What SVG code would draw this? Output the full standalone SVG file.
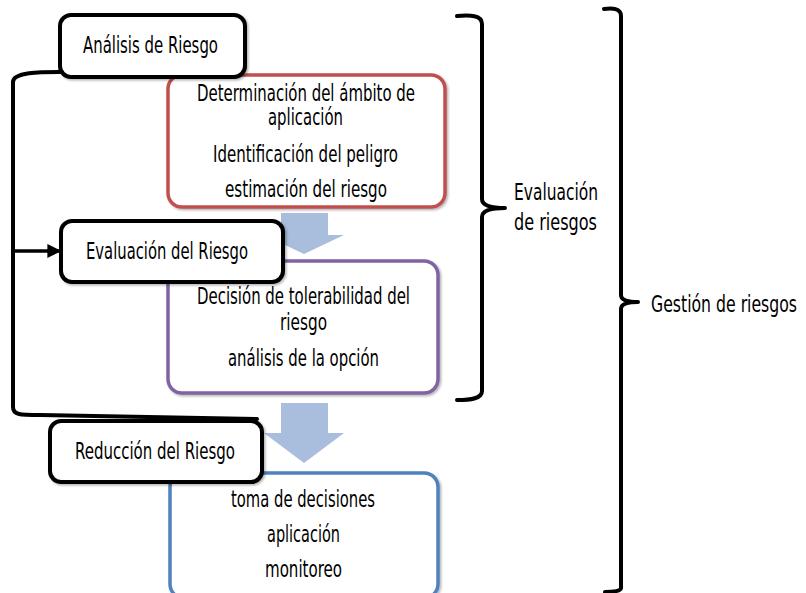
<svg xmlns="http://www.w3.org/2000/svg" width="806" height="593" viewBox="0 0 806 593">
<style>
text{font-family:"Liberation Sans Narrow","DejaVu Sans Condensed","Liberation Sans",sans-serif;font-size:23px;fill:#000}
.c{text-anchor:middle}
.lbl{fill:#fff;stroke:#000;stroke-width:4}
.box{fill:#fff;stroke-width:3.5}
.br{fill:none;stroke:#000;stroke-width:4;stroke-linecap:round;stroke-linejoin:round}
.blk{fill:#A9BDDC}
</style>
<defs>
<filter id="sh" x="-10%" y="-10%" width="130%" height="130%">
<feDropShadow dx="1.5" dy="1.5" stdDeviation="1.2" flood-color="#000" flood-opacity="0.3"/>
</filter>
<marker id="ah" viewBox="0 0 10 10" refX="9" refY="5" markerWidth="4" markerHeight="4" orient="auto" markerUnits="strokeWidth">
<path d="M0,0 L10,5 L0,10 z" fill="#000"/>
</marker>
</defs>

<g id="box-red">
<rect class="box" x="168" y="75" width="277" height="132" rx="14" stroke="#C0504D" filter="url(#sh)"/>
<text class="c" x="306" y="101" textLength="218" lengthAdjust="spacingAndGlyphs">Determinación del ámbito de</text>
<text class="c" x="305.5" y="125" textLength="75" lengthAdjust="spacingAndGlyphs">aplicación</text>
<text class="c" x="305.5" y="162" textLength="185" lengthAdjust="spacingAndGlyphs">Identificación del peligro</text>
<text class="c" x="306" y="197" textLength="162" lengthAdjust="spacingAndGlyphs">estimación del riesgo</text>
</g>

<g id="box-purple">
<rect class="box" x="168" y="261" width="270" height="132" rx="14" stroke="#8064A2" filter="url(#sh)"/>
<text class="c" x="303.5" y="304" textLength="213" lengthAdjust="spacingAndGlyphs">Decisión de tolerabilidad del</text>
<text class="c" x="303.5" y="330" textLength="47" lengthAdjust="spacingAndGlyphs">riesgo</text>
<text class="c" x="303.5" y="366" textLength="151" lengthAdjust="spacingAndGlyphs">análisis de la opción</text>
</g>

<g id="box-blue">
<rect class="box" x="170" y="473" width="268" height="125" rx="14" stroke="#4F81BD" filter="url(#sh)"/>
<text class="c" x="303" y="507" textLength="144" lengthAdjust="spacingAndGlyphs">toma de decisiones</text>
<text class="c" x="303.5" y="542" textLength="73" lengthAdjust="spacingAndGlyphs">aplicación</text>
<text class="c" x="303.5" y="577" textLength="77" lengthAdjust="spacingAndGlyphs">monitoreo</text>
</g>

<g id="flow-arrows">
<path class="blk" d="M281,213 L328,213 L328,235 L344,235 L304,254 L264,235 L281,235 z"/>
<path class="blk" d="M281,403 L328,403 L328,433 L344,433 L304,463 L264,433 L281,433 z"/>
</g>

<g id="connectors">
<path class="br" d="M60,72 C40,72 13,72 13,82 L13,407 C13,415 20,415 40,415 L257,419"/>
<line x1="13" y1="251" x2="60" y2="251" stroke="#000" stroke-width="3.5" marker-end="url(#ah)"/>
</g>

<g id="lbl-analisis">
<rect class="lbl" x="60" y="15" width="185" height="62" rx="11" filter="url(#sh)"/>
<text class="c" x="150.5" y="53" textLength="135" lengthAdjust="spacingAndGlyphs">Análisis de Riesgo</text>
</g>

<g id="lbl-evaluacion">
<rect class="lbl" x="61" y="221" width="222" height="61" rx="11" filter="url(#sh)"/>
<text class="c" x="167" y="259" textLength="162" lengthAdjust="spacingAndGlyphs">Evaluación del Riesgo</text>
</g>

<g id="lbl-reduccion">
<rect class="lbl" x="50" y="421" width="212" height="61" rx="11" filter="url(#sh)"/>
<text class="c" x="155" y="459" textLength="160" lengthAdjust="spacingAndGlyphs">Reducción del Riesgo</text>
</g>

<g id="brace-evaluacion">
<path class="br" d="M457,16 C470,15 482,15 482,24 L482,199 C482,205 490,208 505,208 C490,208 482,211 482,217 L482,391 C482,399 470,400 457,400"/>
<text x="514" y="200" textLength="84" lengthAdjust="spacingAndGlyphs">Evaluación</text>
<text x="514" y="230" textLength="83" lengthAdjust="spacingAndGlyphs">de riesgos</text>
</g>

<g id="brace-gestion">
<path class="br" d="M604,9 C612,8 621,8 621,16 L621,295 C621,300 628,302 638,302 C628,302 621,304 621,309 L621,588 C621,591 614,592 605,592"/>
<text x="724" y="312" class="c" textLength="146" lengthAdjust="spacingAndGlyphs">Gestión de riesgos</text>
</g>
</svg>
